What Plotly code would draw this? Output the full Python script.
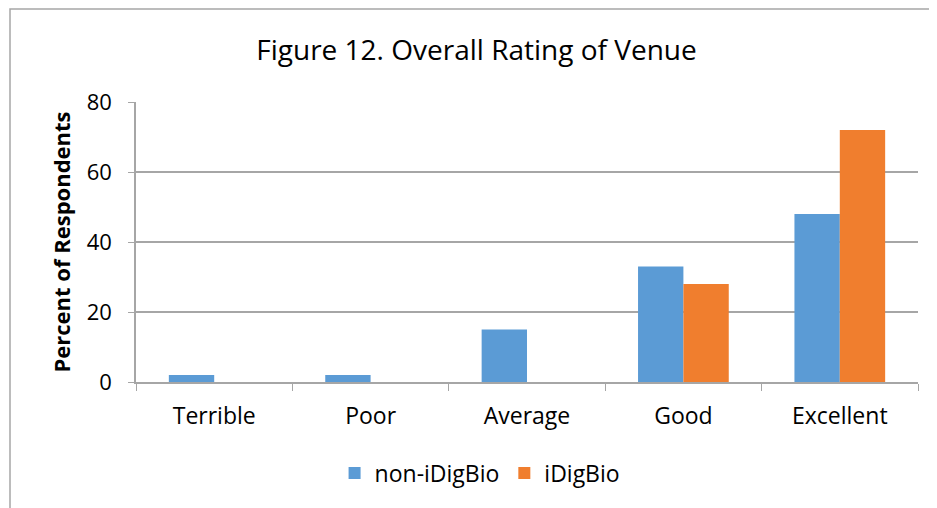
import plotly.graph_objects as go

categories = ["Terrible", "Poor", "Average", "Good", "Excellent"]
non_idigbio = [2, 2, 15, 33, 48]
idigbio = [0, 0, 0, 28, 72]
y_ticks = [0, 20, 40, 60, 80]

FONT = "Open Sans"

fig = go.Figure()
fig.add_trace(go.Bar(x=categories, y=non_idigbio, name="non-iDigBio",
                     marker=dict(color="#5B9BD5", line=dict(width=0))))
fig.add_trace(go.Bar(x=categories, y=idigbio, name="iDigBio",
                     marker=dict(color="#F07E2E", line=dict(width=0))))

fig.update_layout(
    width=937, height=508,
    margin=dict(l=128, r=27, t=94, b=134),
    paper_bgcolor="white", plot_bgcolor="white",
    barmode="group", bargap=0.42, bargroupgap=0,
    title=dict(text="Figure 12. Overall Rating of Venue", x=0.5, xanchor="center",
               y=1 - 42/508, yanchor="middle",
               font=dict(family=FONT, size=28, color="black")),
    font=dict(family=FONT, color="black"),
    showlegend=True,
    legend=dict(orientation="h", x=0.44, xanchor="center", y=-0.325, yanchor="middle",
                font=dict(family=FONT, size=23, color="black"),
                itemwidth=30, traceorder="normal"),
    xaxis=dict(showline=True, linecolor="#A6A6A6", linewidth=1.5,
               ticks="outside", tickson="boundaries", ticklen=7, tickcolor="#A6A6A6",
               tickfont=dict(family=FONT, size=23, color="black"),
               ticklabelstandoff=13, showgrid=False),
    yaxis=dict(range=[0, 80], tickvals=y_ticks, showline=True, linecolor="#A6A6A6",
               linewidth=1.5, ticks="outside", ticklen=6, tickcolor="#A6A6A6",
               showgrid=True, gridcolor="#A6A6A6", gridwidth=1.5, zeroline=False,
               tickfont=dict(family=FONT, size=22, color="black"),
               ticklabelstandoff=12,
               title=dict(text="<b>Percent of Respondents</b>",
                          font=dict(family=FONT, size=22, color="black"), standoff=10)),
    shapes=[dict(type="rect", xref="paper", yref="paper",
                 x0=(2-128)/782, x1=1.2, y0=-0.6, y1=(374-1)/280,
                 line=dict(color="#A6A6A6", width=1.5), layer="below")],
)

fig.write_html("out.html")
